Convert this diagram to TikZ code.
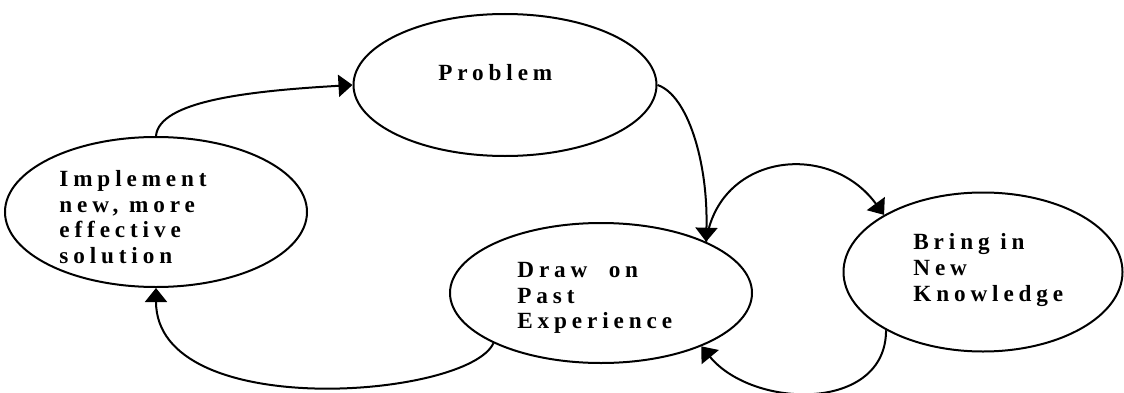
\documentclass[tikz,border=0pt]{standalone}
\usepackage{fontspec}
\newfontfamily\bubblefont[LetterSpace=21]{Liberation Serif}
\usetikzlibrary{arrows.meta,shapes.geometric}
\tikzset{
  bubble/.style={draw,ellipse,line width=1pt,inner sep=0pt},
  bubbletext/.style={anchor=west,align=left,inner sep=0pt,
    font={\fontsize{11.6pt}{12.9pt}\bubblefont\bfseries}},
  link/.style={->,line width=1pt}
}
\begin{document}
\begin{tikzpicture}[x=0.5pt,y=0.5pt,>={Triangle[length=7pt,width=11pt]}]
\useasboundingbox (0,0) rectangle (1124,392);
\node[bubble,minimum width=151.5pt,minimum height=71pt] (prob) at (505,307) {};
\node[bubble,minimum width=151pt,minimum height=75pt] (impl) at (156,180) {};
\node[bubble,minimum width=151pt,minimum height=70pt] (past) at (601,99) {};
\node[bubble,minimum width=139.5pt,minimum height=79.5pt] (know) at (983,120) {};
\node[bubbletext] (probtxt) at (438,319) {Problem};
\node[bubbletext] (impltxt) at (59,175) {Implement\\new, more\\effective\\solution};
\node[bubbletext] (pasttxt) at (517,94) {Draw\ \ on\\Past\\Experience};
\node[bubbletext] (knowtxt) at (913,122) {Bring\ in\\New\\Knowledge};
\draw[link] (impl.90) .. controls +(3,35) and +(-104,-6) .. (prob.180);
\draw[link] (prob.0) .. controls +(30,-10) and +(2,80) .. (past.26);
\draw[link] (past.26) .. controls +(12,88) and +(-55,75) .. (know.150);
\draw[link] (know.211) .. controls +(0,-82) and +(52,-63) .. (past.-28);
\draw[link] (past.205) .. controls +(-25,-55) and +(0,-135) .. (impl.270);
\end{tikzpicture}
\end{document}
